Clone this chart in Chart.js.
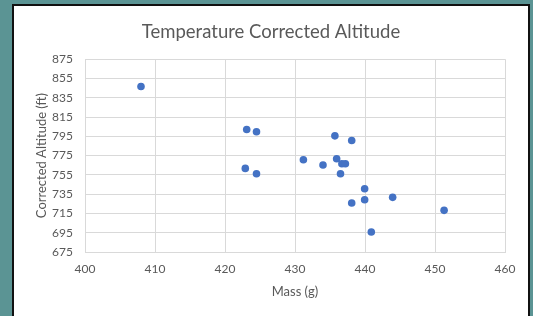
<!DOCTYPE html>
<html>
<head>
<meta charset="utf-8">
<script src="https://cdn.jsdelivr.net/npm/chart.js@4"></script>
<style>
  html, body { margin: 0; padding: 0; }
  body { width: 533px; height: 316px; background: #5b9494; position: relative; overflow: hidden; }
  #panel { position: absolute; left: 12px; top: 4px; width: 514px; height: 320px; border: 2px solid #111; background: #fff; }
  #graficaAltitud { position: absolute; left: 0; top: 0; }
</style>
</head>
<body>
<div id="panel"><canvas id="graficaAltitud" width="514" height="310"></canvas></div>
<script>
// masa (g) y altitud corregida (ft) de cada lanzamiento
const masas = [408.0, 423.1, 424.5, 422.9, 424.5, 431.2, 434.0, 435.7, 435.95, 436.7, 437.2, 436.5, 438.1, 439.95, 439.95, 443.95, 438.1, 451.3, 440.9];
const altitudes = [846.7, 802.1, 799.7, 761.7, 756.2, 770.7, 765.2, 795.5, 771.7, 766.5, 766.5, 756.2, 790.7, 740.6, 729.2, 731.7, 725.8, 718.2, 695.7];

const ticksX = [400, 410, 420, 430, 440, 450, 460];
const ticksY = [675, 695, 715, 735, 755, 775, 795, 815, 835, 855, 875];

const gris = '#595959';
const fuente = 'Lato, "Open Sans", sans-serif';

const puntos = masas.map((m, i) => ({ x: m, y: altitudes[i] }));

const ctx = document.getElementById('graficaAltitud').getContext('2d');
new Chart(ctx, {
    type: 'scatter',
    data: {
        datasets: [{
            label: 'Altitud',
            data: puntos,
            backgroundColor: '#4472C4',
            borderColor: '#4472C4',
            pointRadius: 3.8,
            pointHoverRadius: 3.8,
            borderWidth: 0
        }]
    },
    options: {
        responsive: false,
        animation: false,
        layout: { padding: 0 },
        plugins: {
            legend: { display: false },
            tooltip: { enabled: false },
            title: {
                display: true,
                text: 'Temperature Corrected Altitude',
                color: gris,
                font: { family: fuente, size: 18.5, weight: '400' },
                padding: { top: 15, bottom: 16 }
            }
        },
        scales: {
            x: {
                type: 'linear',
                min: ticksX[0],
                max: ticksX[ticksX.length - 1],
                afterBuildTicks: s => { s.ticks = ticksX.map(v => ({ value: v })); },
                afterFit: s => { s.height = 64; },
                grid: { color: '#d9d9d9', drawTicks: false },
                border: { color: '#d9d9d9' },
                ticks: { color: gris, font: { family: fuente, size: 12 }, padding: 10 },
                title: {
                    display: true,
                    text: 'Mass (g)',
                    color: gris,
                    font: { family: fuente, size: 13 },
                    padding: { top: 0, bottom: 16 }
                }
            },
            y: {
                type: 'linear',
                min: ticksY[0],
                max: ticksY[ticksY.length - 1],
                afterBuildTicks: s => { s.ticks = ticksY.map(v => ({ value: v })); },
                afterFit: s => { s.width = 71; },
                grid: { color: '#d9d9d9', drawTicks: false },
                border: { color: '#d9d9d9' },
                ticks: { color: gris, font: { family: fuente, size: 12 }, padding: 12 },
                title: {
                    display: true,
                    text: 'Corrected Altitude (ft)',
                    color: gris,
                    font: { family: fuente, size: 13 },
                    padding: { top: 20, bottom: 0 }
                }
            },
            // eje vacío a la derecha, solo reserva el margen
            derecha: {
                type: 'linear',
                position: 'right',
                afterFit: s => { s.width = 23; },
                grid: { display: false },
                border: { display: false },
                ticks: { display: false }
            }
        }
    }
});
</script>
</body>
</html>
